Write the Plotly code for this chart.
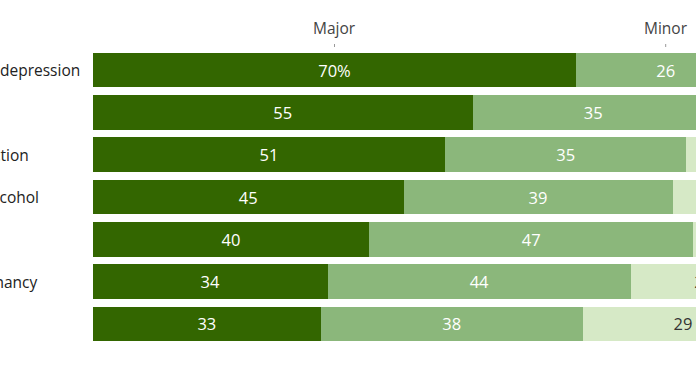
import plotly.graph_objects as go

categories = ["Anxiety and depression", "Bullying", "Drug addiction", "Drinking alcohol",
              "Poverty", "Teen pregnancy", "Gangs"]
major = [70, 55, 51, 45, 40, 34, 33]
minor = [26, 35, 35, 39, 47, 44, 38]
not_problem = [4, 10, 14, 16, 13, 21, 29]
series_names = ["Major", "Minor", "Not a problem"]

colors = ["#336600", "#8bb77b", "#d6e9c6"]
text_colors = ["white", "white", "#333333"]
FONT = "Open Sans, Liberation Sans, Arial, sans-serif"

W, H = 696, 365
L, R, T, B = 93, 0, 49, 20
px_per_pct = 6.9
plot_w = W - L - R
xmax = plot_w / px_per_pct
plot_h = H - T - B

fig = go.Figure()
for si, (name, vals) in enumerate(zip(series_names, [major, minor, not_problem])):
    texts = [f"{v}%" if (i == 0 and si == 0) else str(v) for i, v in enumerate(vals)]
    fig.add_trace(go.Bar(
        y=categories, x=vals, orientation="h", name=name,
        marker=dict(color=colors[si], line=dict(width=0)),
        text=texts, textposition="inside", insidetextanchor="middle",
        textangle=0, constraintext="none",
        insidetextfont=dict(color=text_colors[si], size=16.5, family=FONT),
        hoverinfo="skip", cliponaxis=True,
    ))

annotations = []
# Row labels, left-aligned, starting off-screen to the left
label_shift = [-11, 0, 0, 0, 0, 0, 0]
for c, sh in zip(categories, label_shift):
    annotations.append(dict(
        x=0, xref="paper", y=c, yref="y", xanchor="left", yanchor="middle",
        xshift=-173 + sh, text=c, showarrow=False,
        font=dict(size=15.5, color="#222222", family=FONT),
    ))

# Header labels centered over first row segments
starts = [0, major[0], major[0] + minor[0]]
first_vals = [major[0], minor[0], not_problem[0]]
shapes = []
for name, s, v in zip(series_names, starts, first_vals):
    cx = s + v / 2
    annotations.append(dict(
        x=cx, xref="x", y=1, yref="paper", yanchor="middle", yshift=21,
        text=name, showarrow=False,
        font=dict(size=15.5, color="#444444", family=FONT),
    ))
    shapes.append(dict(
        type="line", xref="x", yref="paper", x0=cx, x1=cx,
        y0=1 + 2 / plot_h, y1=1 + 7 / plot_h,
        line=dict(color="#999999", width=1, dash="dot"),
    ))

fig.update_layout(
    width=W, height=H,
    margin=dict(l=L, r=R, t=T, b=B, pad=0),
    barmode="stack", bargap=0.185,
    showlegend=False,
    plot_bgcolor="white", paper_bgcolor="white",
    xaxis=dict(range=[0, xmax], visible=False, fixedrange=True),
    yaxis=dict(autorange="reversed", visible=False, fixedrange=True),
    annotations=annotations, shapes=shapes,
    font=dict(family=FONT),
)

fig.write_html("out.html", post_script="document.body.style.margin='0';",
               config={"displayModeBar": False})
